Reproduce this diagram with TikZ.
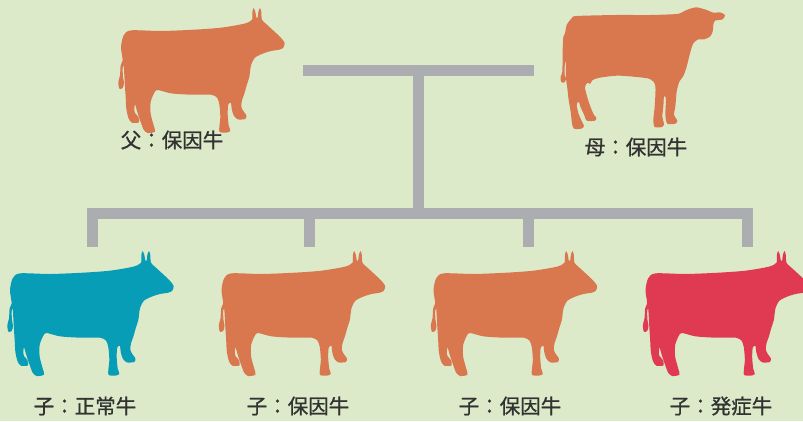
\documentclass[tikz,border=0pt]{standalone}
\usepackage{fontspec}
\newfontfamily\jpfont[FakeBold=0.8]{Noto Sans CJK JP}
\definecolor{bgcol}{RGB}{221,234,201}
\definecolor{cowor}{RGB}{217,120,78}
\definecolor{cowbl}{RGB}{8,157,182}
\definecolor{cowrd}{RGB}{224,58,82}
\definecolor{barcol}{RGB}{171,173,177}
\definecolor{txtcol}{RGB}{50,50,50}

% beef-type silhouette, facing right
\newcommand\bullpts{
(35,190) (30,150) (38,115) (60,100) (150,102) (250,98) (330,92) (400,80) (423,68)
(424,45) (428,33) (433,45) (436,62) (440,62) (442,45) (447,33) (451,45) (453,68)
(470,85) (495,108) (512,125) (521,138) (517,152) (505,158) (480,162) (455,170) (432,182)
(420,205) (415,240) (408,262)
(400,290) (393,310) (391,330) (399,345) (406,355) (403,366) (380,367) (368,355) (362,335) (360,318)
(352,322) (350,350) (353,385) (358,402) (345,407) (326,405) (325,390) (328,360) (325,322) (318,302)
(300,293) (240,293) (180,289) (140,279)
(130,287) (119,315) (119,350) (128,385) (132,404) (110,408) (98,398) (88,372) (78,342) (72,322)
(70,336) (72,348) (82,360) (84,376) (62,377) (52,362) (46,335) (44,300)
(42,270) (40,235) (38,205)
(35,215) (36,240) (39,258) (35,273) (25,275) (22,255) (27,235) (29,205)
}

% dairy-type silhouette, facing right
\newcommand\damepts{
(45,100) (50,75) (65,55) (80,48) (200,45) (300,45) (380,42) (400,35)
(415,28) (440,22) (470,30) (490,38) (510,37) (525,45) (518,58) (495,62)
(490,75) (488,95) (480,110) (462,118) (445,118) (430,130) (420,160) (410,200) (400,228)
(388,245) (380,275) (376,320) (372,345) (382,362) (376,371) (352,371) (346,345) (348,295)
(342,290) (340,320) (337,350) (342,372) (336,381) (314,381) (310,360) (314,320) (316,258)
(300,237) (250,230) (200,227) (150,233) (128,240) (120,252) (112,248)
(105,262) (112,292) (122,322) (132,345) (139,353) (135,362) (110,362) (103,346) (92,322)
(86,305) (80,315) (86,342) (96,365) (102,378) (94,386) (72,386) (66,370) (62,335) (56,300)
(52,265) (48,235) (47,180)
(44,200) (44,225) (48,238) (42,248) (33,245) (32,230) (37,215) (38,150) (40,110)
}

\begin{document}
\begin{tikzpicture}[x=1pt,y=-1pt,
  bull/.style={smooth cycle,tension=0.45},
  bar/.style={draw=barcol,line width=11pt,line cap=butt,line join=miter},
  lab/.style={font=\jpfont\fontsize{20.5}{20.5}\selectfont,text=txtcol,inner sep=0pt,anchor=center}]
\fill[bgcol] (0,0) rectangle (803,421);
\useasboundingbox (0,0) rectangle (803,421);
\clip (0,0) rectangle (803,421);

% parents
\fill[cowor,shift={(111,-3)},scale=1/3] plot[bull] coordinates {\bullpts};
\fill[cowor,shift={(550,0)},scale=1/3] plot[bull] coordinates {\damepts};
% offspring
\fill[cowbl,shift={(0,240)},scale=1/3] plot[bull] coordinates {\bullpts};
\fill[cowor,shift={(211.5,240)},scale=1/3] plot[bull] coordinates {\bullpts};
\fill[cowor,shift={(423.5,240)},scale=1/3] plot[bull] coordinates {\bullpts};
\fill[cowrd,shift={(635.5,240)},scale=1/3] plot[bull] coordinates {\bullpts};

% labels
\node[lab] (sire) at (172,140) {父：保因牛};
\node[lab] (dam)  at (636,147) {母：保因牛};
\node[lab] (k1)   at (85,406)  {子：正常牛};
\node[lab] (k2)   at (298,406) {子：保因牛};
\node[lab] (k3)   at (510,406) {子：保因牛};
\node[lab] (k4)   at (721,406) {子：発症牛};

% pedigree lines
\coordinate (pl) at (303,70);
\coordinate (pr) at (534,70);
\coordinate (pm) at (418,70);
\coordinate (hub) at (418,213.5);
\coordinate (d1) at (92,247);
\coordinate (d2) at (309.5,247);
\coordinate (d3) at (528,247);
\coordinate (d4) at (747,247);
\draw[bar] (pl) -- (pr);
\draw[bar] (pm) -- (hub);
\draw[bar] (d1) |- (hub) -| (d4);
\draw[bar] (d2) -- (d2 |- hub);
\draw[bar] (d3) -- (d3 |- hub);
\end{tikzpicture}
\end{document}
